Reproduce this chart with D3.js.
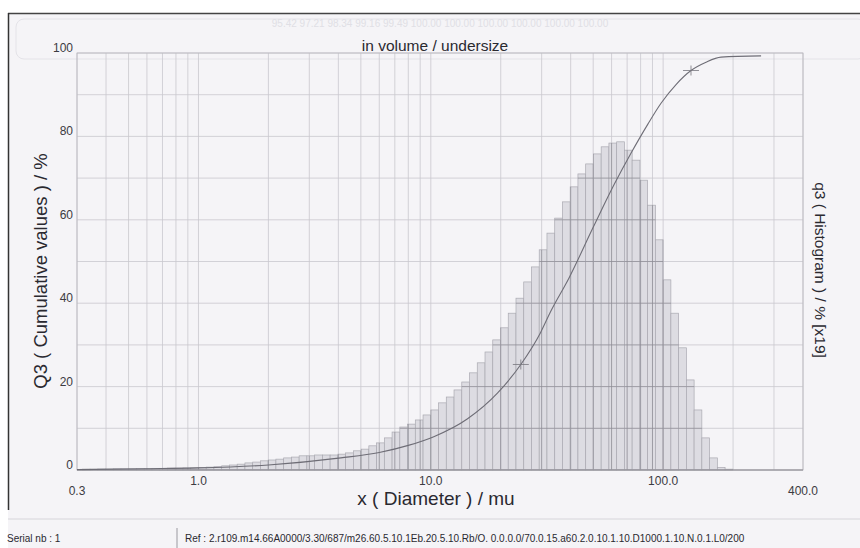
<!DOCTYPE html>
<html>
<head>
<meta charset="utf-8">
<script src="https://cdn.jsdelivr.net/npm/d3@7"></script>
<style>
  body { margin: 0; background: #ffffff; }
  svg { display: block; font-family: "Liberation Sans", Arial, sans-serif; }
</style>
</head>
<body>
<div id="chart"></div>
<script>
// size classes: 30 per decade, first class starts at 10^(-15/30)
const binsPerDecade = 30;
const firstBin = -15;

// q3 histogram heights (already x19, read in % of left axis)
const histValues = [
  0.2, 0.2, 0.25, 0.25, 0.3, 0.3, 0.3, 0.35, 0.35, 0.4, 0.4, 0.45, 0.45, 0.5, 0.55,
  0.6, 0.7, 0.8, 1.0, 1.2, 1.4, 1.7, 1.9, 2.2, 2.4,
  2.6, 2.9, 3.1, 3.4, 3.4, 3.6, 3.6, 3.6, 3.8, 4.1,
  4.6, 5.0, 5.8, 6.5, 7.7, 9.1, 10.3, 11.0, 12.0, 13.2,
  14.4, 16.1, 17.5, 19.2, 21.1, 23.3, 25.7, 28.3, 31.2, 34.1,
  37.6, 41.2, 45.1, 48.7, 52.8, 56.8, 60.4, 64.3, 67.9, 71.0,
  73.4, 75.8, 77.5, 78.4, 78.7, 76.7, 74.3, 69.5, 63.5, 55.2,
  45.6, 37.6, 29.3, 21.6, 14.4, 7.7, 2.9, 0.6, 0.2
];

// Q3 cumulative curve
const curveDiam = [0.3, 0.6, 1.0, 2.0, 4.1, 6.0, 8.0, 10.3, 14.4, 19.4, 24.4, 29.7, 32.8, 39.3, 50.3, 61.6, 72.8, 86.1, 98.1, 113.9, 131.8, 153, 177.6, 264];
const curveQ3 = [0.1, 0.3, 0.5, 1.2, 2.9, 4.2, 5.9, 8.0, 12.3, 18.5, 25.3, 33.0, 38.0, 46.0, 58.5, 68.5, 76.0, 83.0, 88.0, 92.5, 95.8, 97.8, 99.0, 99.3];

// crosshair marks on the curve
const markDiam = [24.4, 131.8];
const markQ3 = [25.3, 95.8];

const xTickValues = [0.3, 1, 10, 100, 400];
const xTickLabels = ["0.3", "1.0", "10.0", "100.0", "400.0"];
const yTickValues = [0, 20, 40, 60, 80, 100];

var margin = { top: 53, right: 57, bottom: 78, left: 77 },
    W = 860, H = 548,
    width = W - margin.left - margin.right,
    height = H - margin.top - margin.bottom;

var svg = d3.select("#chart").append("svg")
    .attr("width", W)
    .attr("height", H);

// scanned paper background
svg.append("rect").attr("x", 8).attr("y", 13).attr("width", W - 8).attr("height", H - 13)
    .attr("fill", "#f5f4f7");
svg.append("line").attr("x1", 8).attr("x2", W).attr("y1", 13.5).attr("y2", 13.5)
    .attr("stroke", "#444").attr("stroke-width", 1.5);
svg.append("line").attr("x1", 8.5).attr("x2", 8.5).attr("y1", 13).attr("y2", 510)
    .attr("stroke", "#333").attr("stroke-width", 1.5);

// faint bleed-through box at top
svg.append("rect").attr("x", 16).attr("y", 19).attr("width", 850).attr("height", 40).attr("rx", 8)
    .attr("fill", "none").attr("stroke", "#e4e3e8");
svg.append("text").attr("x", 440).attr("y", 27).attr("text-anchor", "middle")
    .attr("font-size", 10).attr("fill", "#e0dfe5")
    .text("95.42  97.21  98.34  99.16  99.49  100.00  100.00  100.00  100.00  100.00  100.00");

var g = svg.append("g");

var x = d3.scaleLog().domain([0.3, 400]).range([margin.left, margin.left + width]);
var y = d3.scaleLinear().domain([0, 100]).range([margin.top + height, margin.top]);

var bins = histValues.map((v, i) => ({
    lo: Math.max(0.3, Math.pow(10, (firstBin + i) / binsPerDecade)),
    hi: Math.pow(10, (firstBin + i + 1) / binsPerDecade),
    v: v
}));

var gridX = x.ticks();
var gridY = d3.range(0, 101, 10);

function drawGrid(sel, color) {
    sel.selectAll(".vg").data(gridX).enter().append("line")
        .attr("x1", d => x(d)).attr("x2", d => x(d))
        .attr("y1", y(0)).attr("y2", y(100))
        .attr("stroke", color).attr("stroke-width", 0.8);
    sel.selectAll(".hg").data(gridY).enter().append("line")
        .attr("x1", x(0.3)).attr("x2", x(400))
        .attr("y1", d => y(d)).attr("y2", d => y(d))
        .attr("stroke", color).attr("stroke-width", 0.8);
}

// light grid
drawGrid(g.append("g"), "#c9c8ce");

// histogram
g.append("g").selectAll("rect").data(bins).enter().append("rect")
    .attr("x", d => x(d.lo))
    .attr("width", d => x(d.hi) - x(d.lo))
    .attr("y", d => y(d.v))
    .attr("height", d => y(0) - y(d.v))
    .attr("fill", "#dddce2")
    .attr("stroke", "#aaa9b1")
    .attr("stroke-width", 0.7);

// grid looks darker where it crosses the bars
var clip = svg.append("defs").append("clipPath").attr("id", "barclip");
clip.selectAll("rect").data(bins).enter().append("rect")
    .attr("x", d => x(d.lo))
    .attr("width", d => x(d.hi) - x(d.lo))
    .attr("y", d => y(d.v))
    .attr("height", d => y(0) - y(d.v));
drawGrid(g.append("g").attr("clip-path", "url(#barclip)"), "#8d8c94");

// frame
g.append("rect").attr("x", x(0.3)).attr("y", y(100))
    .attr("width", x(400) - x(0.3)).attr("height", y(0) - y(100))
    .attr("fill", "none").attr("stroke", "#b9b8be").attr("stroke-width", 0.8);
g.append("line").attr("x1", x(0.3)).attr("x2", x(400)).attr("y1", y(0)).attr("y2", y(0))
    .attr("stroke", "#8a8990").attr("stroke-width", 1);

// cumulative curve
var line = d3.line()
    .x(d => x(d[0]))
    .y(d => y(d[1]))
    .curve(d3.curveMonotoneX);
g.append("path")
    .datum(curveDiam.map((d, i) => [d, curveQ3[i]]))
    .attr("d", line)
    .attr("fill", "none")
    .attr("stroke", "#6e6d76")
    .attr("stroke-width", 1.1);

// crosshairs
markDiam.forEach((d, i) => {
    g.append("line").attr("x1", x(d) - 8).attr("x2", x(d) + 8)
        .attr("y1", y(markQ3[i])).attr("y2", y(markQ3[i]))
        .attr("stroke", "#77767e").attr("stroke-width", 0.8);
    g.append("line").attr("x1", x(d)).attr("x2", x(d))
        .attr("y1", y(markQ3[i]) - 5).attr("y2", y(markQ3[i]) + 5)
        .attr("stroke", "#77767e").attr("stroke-width", 0.8);
});

// y tick labels
g.selectAll(".ytl").data(yTickValues).enter().append("text")
    .attr("x", x(0.3) - 4)
    .attr("y", d => y(d) - 1)
    .attr("text-anchor", "end")
    .attr("font-size", 12)
    .attr("fill", "#3c3b42")
    .text(d => d);

// x tick labels (end labels sit lower)
g.selectAll(".xtl").data(xTickValues).enter().append("text")
    .attr("x", d => x(d))
    .attr("y", (d, i) => (i === 0 || i === xTickValues.length - 1) ? 495 : 485)
    .attr("text-anchor", "middle")
    .attr("font-size", 12)
    .attr("fill", "#3c3b42")
    .text((d, i) => xTickLabels[i]);

// titles
svg.append("text").attr("x", 435).attr("y", 51).attr("text-anchor", "middle")
    .attr("font-size", 15.5).attr("fill", "#2a2930").text("in volume / undersize");
svg.append("text").attr("x", 436).attr("y", 505).attr("text-anchor", "middle")
    .attr("font-size", 19).attr("fill", "#2a2930").text("x ( Diameter ) / mu");
svg.append("text")
    .attr("transform", "translate(47,271) rotate(-90)")
    .attr("text-anchor", "middle").attr("font-size", 18.5).attr("fill", "#2a2930")
    .text("Q3 ( Cumulative values ) / %");
svg.append("text")
    .attr("transform", "translate(815,270) rotate(90)")
    .attr("text-anchor", "middle").attr("font-size", 15.5).attr("fill", "#2a2930")
    .text("q3 ( Histogram ) / % [x19]");

// footer
svg.append("line").attr("x1", 8).attr("x2", W).attr("y1", 519).attr("y2", 519)
    .attr("stroke", "#d6d5da");
svg.append("line").attr("x1", 177).attr("x2", 177).attr("y1", 528).attr("y2", H)
    .attr("stroke", "#9a99a0");
svg.append("text").attr("x", 7).attr("y", 542).attr("font-size", 10).attr("fill", "#2a2930")
    .text("Serial nb : 1");
svg.append("text").attr("x", 185).attr("y", 542).attr("font-size", 10).attr("fill", "#2a2930")
    .text("Ref : 2.r109.m14.66A0000/3.30/687/m26.60.5.10.1Eb.20.5.10.Rb/O. 0.0.0.0/70.0.15.a60.2.0.10.1.10.D1000.1.10.N.0.1.L0/200");
</script>
</body>
</html>
